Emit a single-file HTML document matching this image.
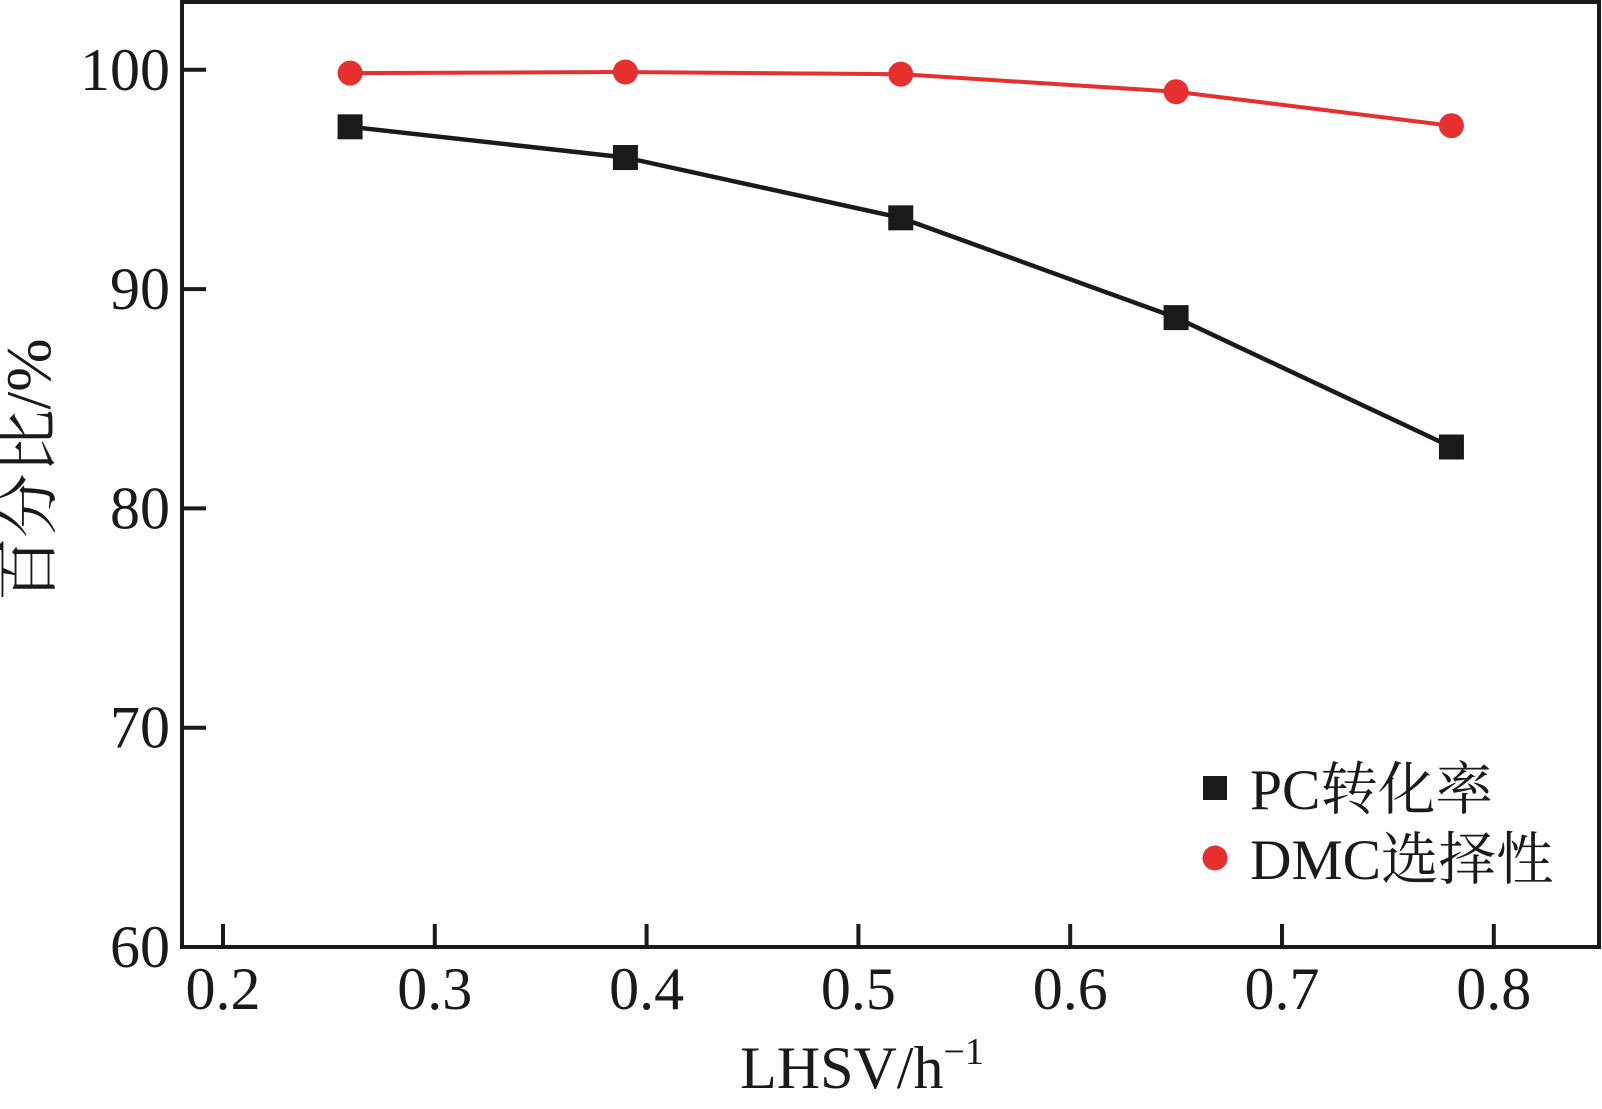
<!DOCTYPE html>
<html><head><meta charset="utf-8"><style>
html,body{margin:0;padding:0;background:#fff;}
svg{display:block;font-family:"Liberation Serif","Noto Serif CJK SC",serif;}
</style></head><body>
<svg width="1602" height="1109" viewBox="0 0 1602 1109">
<g id="axes"></g>
<g id="marks"></g>
<text x="50" y="470" font-size="64" text-anchor="middle" transform="rotate(-90 50 470)" fill="#1a1a1a">百分比/%</text>
<text x="862" y="1088" font-size="60" text-anchor="middle" fill="#1a1a1a">LHSV/h<tspan dy="-24" font-size="38">−1</tspan></text>
<g>
<rect x="1203" y="776" width="24" height="24" fill="#1a1a1a"/>
<text x="1250" y="809" font-size="57.5" fill="#1a1a1a">PC转化率</text>
<circle cx="1215" cy="858" r="12.5" fill="#e5302e"/>
<text x="1250" y="879" font-size="57.5" fill="#1a1a1a">DMC选择性</text>
</g>
</svg>
<script>
const xValues=[0.26,0.39,0.52,0.65,0.78];
const pcConversion=[97.4,96.0,93.25,88.7,82.8];
const dmcSelectivity=[99.85,99.9,99.8,99.0,97.45];
const xTicks=[0.2,0.3,0.4,0.5,0.6,0.7,0.8];
const xTickLabels=["0.2","0.3","0.4","0.5","0.6","0.7","0.8"];
const yTicks=[60,70,80,90,100];
const yTickLabels=["60","70","80","90","100"];

const NS="http://www.w3.org/2000/svg";
const L=182,R=1599,T=2,B=947;
function xs(v){return 223+(v-0.2)*2118;}
function ys(v){return 947-(v-60)*21.93;}
function mk(tag,attrs,parent){const e=document.createElementNS(NS,tag);for(const k in attrs)e.setAttribute(k,attrs[k]);parent.appendChild(e);return e;}
const axes=document.getElementById('axes'),marks=document.getElementById('marks');
const frame=mk('rect',{x:L,y:T,width:R-L,height:B-T,fill:'none',stroke:'#1a1a1a','stroke-width':4},axes);


xTicks.forEach((v,i)=>{
 const t=mk('line',{x1:xs(v),x2:xs(v),y1:B,y2:B-23,stroke:'#1a1a1a','stroke-width':4},axes);
 
 
 const lb=mk('text',{x:xs(v),y:B+62,'font-size':60,'text-anchor':'middle',fill:'#1a1a1a'},axes);
 lb.textContent=xTickLabels[i];
 
 
});
yTicks.forEach((v,i)=>{
 const t=mk('line',{x1:L,x2:L+24,y1:ys(v),y2:ys(v),stroke:'#1a1a1a','stroke-width':4},axes);
 
 
 const lb=mk('text',{x:L-12,y:ys(v)+20,'font-size':60,'text-anchor':'end',fill:'#1a1a1a'},axes);
 lb.textContent=yTickLabels[i];
 
 
});
const pcLine=mk('polyline',{points:xValues.map((x,i)=>xs(x)+','+ys(pcConversion[i])).join(' '),fill:'none',stroke:'#1a1a1a','stroke-width':4.5},marks);


const dmcLine=mk('polyline',{points:xValues.map((x,i)=>xs(x)+','+ys(dmcSelectivity[i])).join(' '),fill:'none',stroke:'#e5302e','stroke-width':4},marks);


xValues.forEach((x,i)=>{
 const s=mk('rect',{x:xs(x)-12.5,y:ys(pcConversion[i])-12.5,width:25,height:25,fill:'#1a1a1a'},marks);
 
 
 const c=mk('circle',{cx:xs(x),cy:ys(dmcSelectivity[i]),r:12.5,fill:'#e5302e'},marks);
 
 
});
</script>
</body></html>
